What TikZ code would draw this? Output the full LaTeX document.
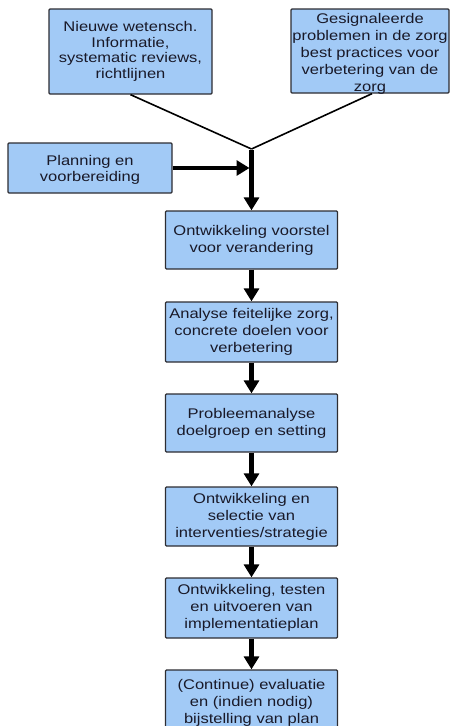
\documentclass[tikz,border=0pt]{standalone}
\usepackage{fontspec}
\setmainfont{Liberation Sans}[FakeStretch=1.18]
\usetikzlibrary{arrows.meta}
\definecolor{boxfill}{RGB}{162,202,246}
\definecolor{boxline}{RGB}{45,45,50}
\definecolor{txtcol}{RGB}{25,25,40}
\begin{document}
\begin{tikzpicture}[x=1pt,y=-1pt,
  box/.style={draw=boxline, fill=boxfill, line width=1.3pt, rounded corners=1pt, inner sep=0pt},
  mainbox/.style={box, minimum width=172pt},
  lbl/.style={text=txtcol, align=center, font=\fontsize{14}{17}\selectfont, inner sep=0pt},
  flow/.style={line width=4.5pt, -{Triangle[length=13pt,width=15pt]}},
  feed/.style={line width=1.6pt}]
\useasboundingbox (0,0) rectangle (450,726);
\clip (0,0) rectangle (450,726);

% top boxes
\node[box, minimum width=163pt, minimum height=85pt] (b1) at (130.5,51.5) {};
\node[lbl, font=\fontsize{14}{15.5}\selectfont] (b1t) at (b1.center) {Nieuwe wetensch.\\Informatie,\\systematic reviews,\\richtlijnen};
\node[box, minimum width=158pt, minimum height=84pt] (b2) at (370,51) {};
\node[lbl] (b2t) at (370,54) {Gesignaleerde\\problemen in de zorg\\best practices voor\\verbetering van de\\zorg};
\node[box, minimum width=164pt, minimum height=50pt] (plan) at (90,168) {};
\node[lbl, font=\fontsize{14}{16}\selectfont] (plant) at (90,170) {Planning en\\voorbereiding};

% main column
\node[mainbox, minimum height=58pt] (b3) at (251.5,240) {};
\node[lbl] (b3t) at (b3.center) {Ontwikkeling voorstel\\voor verandering};
\node[mainbox, minimum height=60pt] (b4) at (251.5,332) {};
\node[lbl] (b4t) at (b4.center) {Analyse feitelijke zorg,\\concrete doelen voor\\verbetering};
\node[mainbox, minimum height=58pt] (b5) at (251.5,423) {};
\node[lbl] (b5t) at (b5.center) {Probleemanalyse\\doelgroep en setting};
\node[mainbox, minimum height=59pt] (b6) at (251.5,516.5) {};
\node[lbl] (b6t) at (b6.center) {Ontwikkeling en\\selectie van\\interventies/strategie};
\node[mainbox, minimum height=60pt] (b7) at (251.5,608) {};
\node[lbl] (b7t) at (b7.center) {Ontwikkeling, testen\\en uitvoeren van\\implementatieplan};
\node[mainbox, minimum height=66pt] (b8) at (251.5,703) {};
\node[lbl] (b8t) at (251.5,702.5) {(Continue) evaluatie\\en (indien nodig)\\bijstelling van plan};

% junction
\coordinate (J) at (251.5,149);
\draw[feed] (b1.south) -- (J);
\draw[feed] ([xshift=2pt]b2.south) -- (J);
\draw[flow, shorten >=2pt] (plan.east) -- (plan.east -| J);
\draw[flow] ([yshift=-1pt]J) -- (b3.north);
\draw[flow] (b3.south) -- (b4.north);
\draw[flow] (b4.south) -- (b5.north);
\draw[flow] (b5.south) -- (b6.north);
\draw[flow] (b6.south) -- (b7.north);
\draw[flow] (b7.south) -- (b8.north);
\end{tikzpicture}
\end{document}
